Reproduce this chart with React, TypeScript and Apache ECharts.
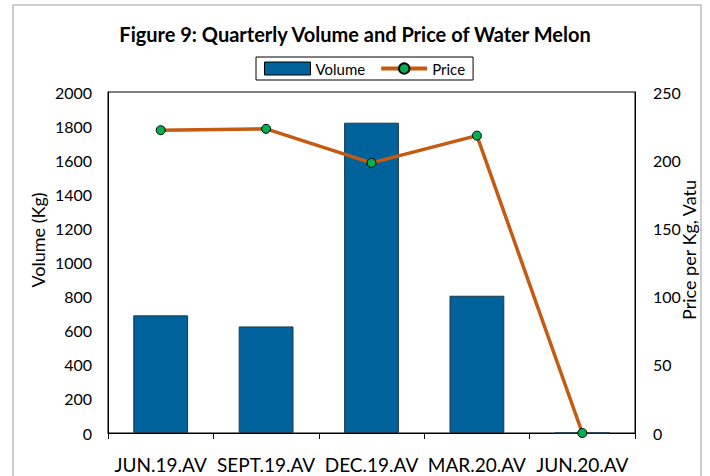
import React, { useEffect, useRef } from "react";
import * as echarts from "echarts";

const categories = ["JUN.19.AV", "SEPT.19.AV", "DEC.19.AV", "MAR.20.AV", "JUN.20.AV"];
const volume = [690, 625, 1820, 805, 0];
const price = [222, 223, 198, 218, 0];
const volumeTicks = { min: 0, max: 2000, interval: 200 };
const priceTicks = { min: 0, max: 250, interval: 50 };

const FONT = "Lato";

export default function App() {
  const ref = useRef<HTMLDivElement>(null);
  useEffect(() => {
    document.body.style.margin = "0";
    const chart = echarts.init(ref.current!, undefined, { renderer: "svg" });
    chart.setOption({
      animation: false,
      textStyle: { fontFamily: FONT, color: "#000" },
      title: {
        text: "Figure 9: Quarterly Volume and Price of Water Melon",
        left: "center",
        top: 19,
        textStyle: { fontFamily: FONT, fontSize: 20, fontWeight: "bold", color: "#000" },
      },
      legend: {
        top: 57,
        left: 256,
        borderColor: "#000",
        borderWidth: 1,
        padding: [4, 8],
        itemGap: 14,
        itemWidth: 46,
        itemHeight: 13,
        textStyle: { fontFamily: FONT, fontSize: 15, color: "#000" },
        data: [
          { name: "Volume", icon: "rect", itemStyle: { borderColor: "#000", borderWidth: 1 } },
          { name: "Price", lineStyle: { width: 4, color: "#C55A11" } },
        ],
      },
      grid: {
        left: 108,
        right: 75,
        top: 92,
        bottom: 43,
        show: true,
        borderColor: "#000",
        borderWidth: 1,
        containLabel: false,
      },
      xAxis: {
        type: "category",
        data: categories,
        axisLine: { lineStyle: { color: "#000", width: 1 } },
        axisTick: { show: true, length: 6, lineStyle: { color: "#000" } },
        axisLabel: { fontFamily: FONT, fontSize: 19, color: "#000", margin: 22, interval: 0 },
      },
      yAxis: [
        {
          type: "value",
          min: volumeTicks.min,
          max: volumeTicks.max,
          interval: volumeTicks.interval,
          splitLine: { show: false },
          axisLine: { show: true, lineStyle: { color: "#000" } },
          axisTick: { show: false },
          axisLabel: { fontFamily: FONT, fontSize: 16, color: "#000", margin: 16, formatter: (v: number) => String(v) },
        },
        {
          type: "value",
          min: priceTicks.min,
          max: priceTicks.max,
          interval: priceTicks.interval,
          splitLine: { show: false },
          axisLine: { show: true, lineStyle: { color: "#000" } },
          axisTick: { show: false },
          axisLabel: { fontFamily: FONT, fontSize: 16, color: "#000", margin: 18, formatter: (v: number) => String(v) },
        },
      ],
      graphic: [
        {
          type: "rect",
          silent: true,
          shape: { x: 13, y: 5, width: 688, height: 490 },
          style: { fill: "none", stroke: "#bfbfbf", lineWidth: 1.5 },
          z: -10,
        },
        {
          type: "text",
          x: 38,
          y: 240,
          rotation: Math.PI / 2,
          style: {
            text: "Volume (Kg)",
            fontFamily: FONT,
            fontSize: 18,
            fill: "#000",
            textAlign: "center",
            textVerticalAlign: "middle",
          },
        },
        {
          type: "text",
          x: 689,
          y: 250,
          rotation: Math.PI / 2,
          style: {
            text: "Price per Kg, Vatu",
            fontFamily: FONT,
            fontSize: 18,
            fill: "#000",
            textAlign: "center",
            textVerticalAlign: "middle",
          },
        },
      ],
      series: [
        {
          name: "Volume",
          type: "bar",
          data: volume,
          barWidth: "52%",
          itemStyle: { color: "#00629B", borderColor: "#1b3750", borderWidth: 1 },
        },
        {
          name: "Price",
          type: "line",
          yAxisIndex: 1,
          data: price,
          symbol: "circle",
          symbolSize: 9,
          lineStyle: { color: "#C55A11", width: 3.5 },
          itemStyle: { color: "#00B050", borderColor: "#000", borderWidth: 1 },
        },
      ],
    });
    return () => chart.dispose();
  }, []);
  return <div ref={ref} style={{ width: 710, height: 476 }} />;
}
